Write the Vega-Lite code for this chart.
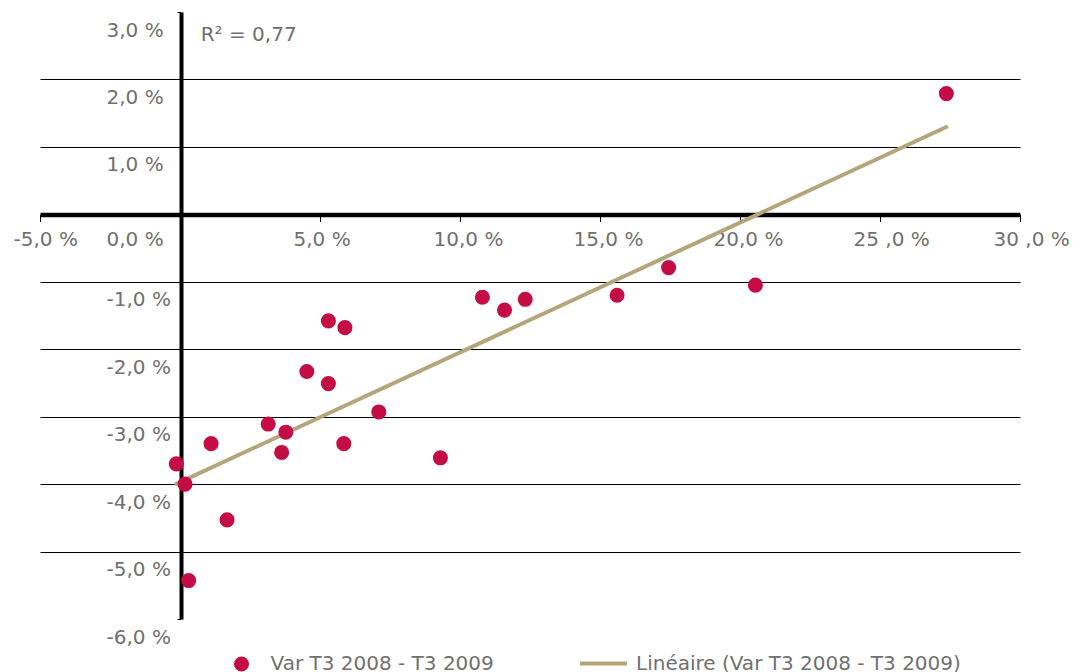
{
  "$schema": "https://vega.github.io/schema/vega-lite/v6.json",
  "width": 980,
  "height": 607,
  "autosize": {"type": "none"},
  "padding": {"left": 40, "top": 12, "right": 53, "bottom": 53},
  "background": "white",
  "config": {"view": {"stroke": null}, "font": "DejaVu Sans"},
  "datasets": {
    "pts": [
      {"series": "Var T3 2008 - T3 2009", "x": 27.37, "y": 1.79},
      {"series": "Var T3 2008 - T3 2009", "x": 17.45, "y": -0.79},
      {"series": "Var T3 2008 - T3 2009", "x": 20.55, "y": -1.05},
      {"series": "Var T3 2008 - T3 2009", "x": 15.61, "y": -1.2},
      {"series": "Var T3 2008 - T3 2009", "x": 10.8, "y": -1.23},
      {"series": "Var T3 2008 - T3 2009", "x": 11.59, "y": -1.42},
      {"series": "Var T3 2008 - T3 2009", "x": 12.33, "y": -1.26},
      {"series": "Var T3 2008 - T3 2009", "x": 5.3, "y": -1.58},
      {"series": "Var T3 2008 - T3 2009", "x": 5.89, "y": -1.68},
      {"series": "Var T3 2008 - T3 2009", "x": 4.53, "y": -2.33},
      {"series": "Var T3 2008 - T3 2009", "x": 5.3, "y": -2.51},
      {"series": "Var T3 2008 - T3 2009", "x": 7.1, "y": -2.93},
      {"series": "Var T3 2008 - T3 2009", "x": 3.15, "y": -3.11},
      {"series": "Var T3 2008 - T3 2009", "x": 3.78, "y": -3.23},
      {"series": "Var T3 2008 - T3 2009", "x": 3.63, "y": -3.53},
      {"series": "Var T3 2008 - T3 2009", "x": 5.85, "y": -3.4},
      {"series": "Var T3 2008 - T3 2009", "x": 9.3, "y": -3.61},
      {"series": "Var T3 2008 - T3 2009", "x": 1.11, "y": -3.4},
      {"series": "Var T3 2008 - T3 2009", "x": -0.13, "y": -3.7},
      {"series": "Var T3 2008 - T3 2009", "x": 0.18, "y": -4.0},
      {"series": "Var T3 2008 - T3 2009", "x": 1.68, "y": -4.53},
      {"series": "Var T3 2008 - T3 2009", "x": 0.31, "y": -5.43}
    ],
    "note": [{"label": "R² = 0,77"}]
  },
  "layer": [
    {
      "data": {"name": "pts"},
      "transform": [{"regression": "y", "on": "x"}],
      "mark": {"type": "line", "strokeWidth": 4, "strokeCap": "round"},
      "encoding": {
        "x": {
          "field": "x",
          "type": "quantitative",
          "scale": {"domain": [-5, 30], "nice": false, "zero": false},
          "axis": {
            "orient": "bottom",
            "offset": -404.5,
            "values": [-5, 5, 10, 15, 20, 25, 30],
            "title": null,
            "grid": false,
            "domainColor": "black",
            "domainWidth": 4.5,
            "tickColor": "black",
            "tickWidth": 1,
            "tickSize": 7,
            "labelFont": "DejaVu Sans",
            "labelFontSize": 20,
            "labelColor": "#707070",
            "labelPadding": 8,
            "labelFlush": false,
            "labelOverlap": false,
            "labelAlign": "left",
            "labelOffset": -27,
            "labelExpr": "datum.value >= 25 ? datum.value + ' ,0 %' : (datum.value < 0 ? '-' : '') + replace(format(abs(datum.value), '.1f'), '.', ',') + ' %'"
          }
        },
        "y": {
          "field": "y",
          "type": "quantitative",
          "scale": {"domain": [-6, 3], "nice": false, "zero": false},
          "axis": {
            "orient": "left",
            "offset": -141,
            "values": [-6, -5, -4, -3, -2, -1, 0, 1, 2, 3],
            "title": null,
            "grid": true,
            "gridColor": "black",
            "gridWidth": 1.2,
            "gridOpacity": {"condition": {"test": "datum.value == 3 || datum.value == -6 || datum.value == 0", "value": 0}, "value": 1},
            "domainColor": "black",
            "domainWidth": 4,
            "tickColor": "black",
            "tickSize": 4,
            "labelFont": "DejaVu Sans",
            "labelFontSize": 20,
            "labelColor": "#707070",
            "labelAlign": "left",
            "labelBaseline": "middle",
            "labelPadding": 71,
            "labelOffset": {"condition": {"test": "datum.value == 0", "value": 25}, "value": 18},
            "labelFlush": false,
            "labelOverlap": false,
            "labelExpr": "(datum.value < 0 ? '-' : '') + replace(format(abs(datum.value), '.1f'), '.', ',') + ' %'"
          }
        },
        "stroke": {
          "datum": "Linéaire (Var T3 2008 - T3 2009)",
          "scale": {"range": ["#b4a57a"]},
          "legend": {
            "orient": "none",
            "legendX": 538,
            "legendY": 626,
            "title": null,
            "padding": 0,
            "symbolType": "stroke",
            "symbolSize": 2209,
            "symbolStrokeWidth": 4,
            "labelOffset": 7,
            "labelLimit": 0,
            "labelFont": "DejaVu Sans",
            "labelFontSize": 20,
            "labelColor": "#707070"
          }
        }
      }
    },
    {
      "data": {"name": "pts"},
      "mark": {"type": "point", "filled": true, "opacity": 1, "size": 227, "strokeWidth": 0},
      "encoding": {
        "x": {"field": "x", "type": "quantitative"},
        "y": {"field": "y", "type": "quantitative"},
        "fill": {
          "field": "series",
          "type": "nominal",
          "scale": {"range": ["#c50d45"]},
          "legend": {
            "orient": "none",
            "legendX": 191.5,
            "legendY": 642,
            "title": null,
            "padding": 0,
            "symbolType": "circle",
            "symbolSize": 227,
            "symbolStrokeWidth": 0,
            "labelOffset": 19,
            "labelLimit": 0,
            "labelFont": "DejaVu Sans",
            "labelFontSize": 20,
            "labelColor": "#707070"
          }
        }
      }
    },
    {
      "data": {"name": "note"},
      "mark": {"type": "text", "align": "left", "baseline": "middle", "font": "DejaVu Sans", "fontSize": 20, "fill": "#707070"},
      "encoding": {
        "x": {"datum": 0.74, "type": "quantitative"},
        "y": {"datum": 2.66, "type": "quantitative"},
        "text": {"field": "label", "type": "nominal"}
      }
    }
  ]
}
